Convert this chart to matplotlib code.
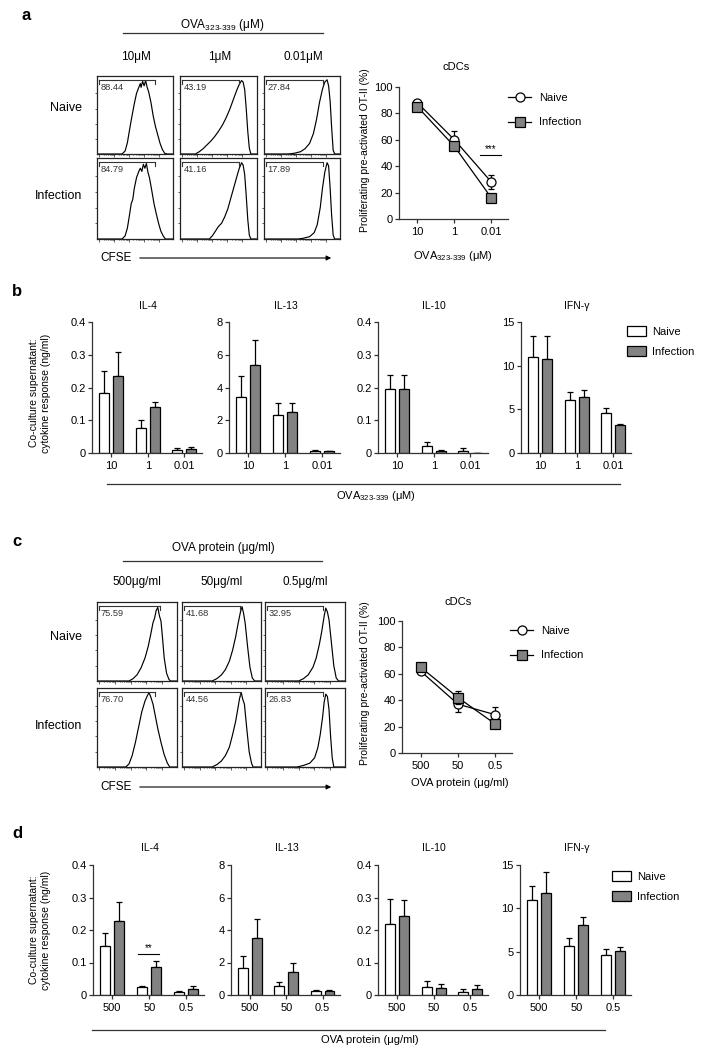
import numpy as np
import matplotlib
matplotlib.use("Agg")
import matplotlib.pyplot as plt
from matplotlib.lines import Line2D
from matplotlib.patches import Patch

plt.rcParams['font.family'] = ['Liberation Sans', 'DejaVu Sans']
plt.rcParams['mathtext.fontset'] = 'custom'
plt.rcParams['mathtext.rm'] = 'Liberation Sans'
plt.rcParams['mathtext.it'] = 'Liberation Sans'

W, H = 709, 1050
GRAY = '#828282'

# ---------------- DATA ----------------
# Panel a: flow histograms (x = fraction of CFSE axis, h = relative count)
A_COLS = ['10μM', '1μM', '0.01μM']
A_ROWS = ['Naive', 'Infection']
A_PCT = [['88.44', '43.19', '27.84'], ['84.79', '41.16', '17.89']]
A_GATE_END = [[0.76, 0.77, 0.77], [0.76, 0.77, 0.77]]
HA_NAIVE_10 = [(0, 0), (0.33, 0), (0.37, 0.04), (0.40, 0.15), (0.43, 0.33), (0.46, 0.5), (0.49, 0.66), (0.52, 0.8),
               (0.55, 0.88), (0.57, 0.93), (0.58, 0.88), (0.60, 0.96), (0.62, 0.9), (0.64, 0.97), (0.66, 0.88),
               (0.68, 0.82), (0.71, 0.68), (0.74, 0.5), (0.77, 0.36), (0.80, 0.25), (0.83, 0.14), (0.86, 0.06),
               (0.89, 0.01), (0.92, 0), (1, 0)]
HA_NAIVE_1 = [(0, 0), (0.2, 0), (0.25, 0.03), (0.3, 0.07), (0.35, 0.12), (0.4, 0.17), (0.45, 0.23), (0.5, 0.3),
              (0.55, 0.38), (0.6, 0.48), (0.65, 0.6), (0.7, 0.74), (0.74, 0.85), (0.77, 0.92), (0.8, 0.97),
              (0.82, 0.95), (0.84, 0.85), (0.86, 0.6), (0.88, 0.3), (0.9, 0.08), (0.92, 0), (1, 0)]
HA_NAIVE_001 = [(0, 0), (0.32, 0), (0.4, 0.01), (0.48, 0.03), (0.54, 0.07), (0.6, 0.14), (0.65, 0.27), (0.69, 0.45),
                (0.73, 0.68), (0.77, 0.86), (0.8, 0.95), (0.83, 0.98), (0.85, 0.9), (0.87, 0.7), (0.89, 0.35),
                (0.91, 0.05), (0.93, 0), (1, 0)]
HA_INF_10 = [(0, 0), (0.33, 0), (0.37, 0.04), (0.4, 0.14), (0.43, 0.32), (0.45, 0.45), (0.47, 0.5), (0.49, 0.64),
             (0.52, 0.78), (0.55, 0.86), (0.57, 0.9), (0.59, 0.86), (0.61, 0.95), (0.63, 0.9), (0.65, 0.96),
             (0.67, 0.85), (0.69, 0.78), (0.72, 0.62), (0.75, 0.45), (0.78, 0.32), (0.81, 0.2), (0.84, 0.1),
             (0.87, 0.04), (0.9, 0), (1, 0)]
HA_INF_1 = [(0, 0), (0.38, 0), (0.42, 0.04), (0.46, 0.1), (0.5, 0.16), (0.54, 0.2), (0.58, 0.28), (0.62, 0.38),
            (0.66, 0.52), (0.7, 0.66), (0.74, 0.8), (0.77, 0.9), (0.8, 0.97), (0.82, 0.94), (0.84, 0.82),
            (0.86, 0.55), (0.88, 0.25), (0.9, 0.05), (0.92, 0), (1, 0)]
HA_INF_001 = [(0, 0), (0.45, 0), (0.52, 0.01), (0.6, 0.03), (0.66, 0.08), (0.7, 0.18), (0.74, 0.4), (0.77, 0.65),
              (0.8, 0.85), (0.83, 0.97), (0.85, 0.93), (0.87, 0.65), (0.89, 0.3), (0.91, 0.05), (0.93, 0), (1, 0)]

# Panel a: proliferation line chart
A_DOSES = ['10', '1', '0.01']
A_LINE_NAIVE = [88, 60, 28]
A_LINE_NAIVE_ERR = [1, 7, 5]
A_LINE_INF = [85, 55, 16]
A_LINE_INF_ERR = [1, 2, 1]

# Panel b: cytokines, OVA323-339
B_IL4_N, B_IL4_N_E = [0.183, 0.076, 0.009], [0.066, 0.024, 0.006]
B_IL4_I, B_IL4_I_E = [0.236, 0.140, 0.012], [0.071, 0.016, 0.006]
B_IL13_N, B_IL13_N_E = [3.40, 2.32, 0.14], [1.28, 0.71, 0.06]
B_IL13_I, B_IL13_I_E = [5.38, 2.48, 0.10], [1.50, 0.57, 0.02]
B_IL10_N, B_IL10_N_E = [0.194, 0.020, 0.007], [0.045, 0.014, 0.008]
B_IL10_I, B_IL10_I_E = [0.196, 0.007, 0.0], [0.043, 0.002, 0.0]
B_IFN_N, B_IFN_N_E = [11.0, 6.03, 4.58], [2.36, 0.92, 0.57]
B_IFN_I, B_IFN_I_E = [10.76, 6.45, 3.24], [2.60, 0.76, 0.12]

# Panel c: flow histograms (OVA protein)
C_COLS = ['500μg/ml', '50μg/ml', '0.5μg/ml']
C_PCT = [['75.59', '41.68', '32.95'], ['76.70', '44.56', '26.83']]
C_GATE_END = [[0.79, 0.74, 0.73], [0.73, 0.74, 0.73]]
HC_NAIVE_500 = [(0, 0), (0.4, 0), (0.45, 0.03), (0.5, 0.08), (0.55, 0.17), (0.6, 0.3), (0.64, 0.45), (0.67, 0.6),
                (0.7, 0.76), (0.72, 0.82), (0.74, 0.92), (0.76, 0.96), (0.78, 0.85), (0.8, 0.78), (0.82, 0.55),
                (0.84, 0.3), (0.87, 0.1), (0.9, 0.02), (0.92, 0), (1, 0)]
HC_NAIVE_50 = [(0, 0), (0.38, 0), (0.44, 0.03), (0.5, 0.08), (0.55, 0.15), (0.6, 0.26), (0.64, 0.4), (0.68, 0.58),
               (0.71, 0.75), (0.74, 0.9), (0.76, 0.97), (0.78, 0.88), (0.8, 0.75), (0.83, 0.45), (0.86, 0.18),
               (0.89, 0.04), (0.92, 0), (1, 0)]
HC_NAIVE_05 = [(0, 0), (0.42, 0), (0.48, 0.03), (0.54, 0.08), (0.6, 0.18), (0.64, 0.3), (0.68, 0.48), (0.71, 0.65),
               (0.74, 0.85), (0.76, 0.95), (0.78, 0.9), (0.8, 0.8), (0.83, 0.5), (0.86, 0.2), (0.89, 0.04),
               (0.92, 0), (1, 0)]
HC_INF_500 = [(0, 0), (0.36, 0), (0.4, 0.04), (0.44, 0.15), (0.48, 0.32), (0.52, 0.52), (0.56, 0.72), (0.6, 0.86),
              (0.63, 0.93), (0.65, 0.97), (0.67, 0.92), (0.7, 0.82), (0.73, 0.66), (0.76, 0.5), (0.8, 0.32),
              (0.84, 0.16), (0.88, 0.05), (0.91, 0), (1, 0)]
HC_INF_50 = [(0, 0), (0.38, 0), (0.44, 0.03), (0.5, 0.08), (0.55, 0.15), (0.6, 0.26), (0.64, 0.42), (0.68, 0.6),
             (0.71, 0.78), (0.73, 0.9), (0.75, 0.97), (0.77, 0.88), (0.79, 0.82), (0.82, 0.5), (0.85, 0.2),
             (0.88, 0.05), (0.9, 0), (1, 0)]
HC_INF_05 = [(0, 0), (0.4, 0), (0.48, 0.02), (0.56, 0.05), (0.62, 0.12), (0.66, 0.25), (0.69, 0.42), (0.72, 0.65),
             (0.74, 0.85), (0.76, 0.95), (0.78, 0.92), (0.8, 0.75), (0.82, 0.4), (0.84, 0.12), (0.86, 0), (1, 0)]

# Panel c: proliferation line chart
C_DOSES = ['500', '50', '0.5']
C_LINE_NAIVE = [62, 37, 29]
C_LINE_NAIVE_ERR = [1.5, 6, 6]
C_LINE_INF = [65, 42, 22]
C_LINE_INF_ERR = [1, 5, 1]

# Panel d: cytokines, OVA protein
D_IL4_N, D_IL4_N_E = [0.150, 0.025, 0.009], [0.042, 0.004, 0.002]
D_IL4_I, D_IL4_I_E = [0.229, 0.085, 0.019], [0.058, 0.021, 0.009]
D_IL13_N, D_IL13_N_E = [1.64, 0.55, 0.23], [0.78, 0.27, 0.10]
D_IL13_I, D_IL13_I_E = [3.49, 1.44, 0.27], [1.17, 0.55, 0.06]
D_IL10_N, D_IL10_N_E = [0.217, 0.026, 0.010], [0.078, 0.017, 0.010]
D_IL10_I, D_IL10_I_E = [0.242, 0.022, 0.019], [0.049, 0.012, 0.012]
D_IFN_N, D_IFN_N_E = [10.92, 5.65, 4.58], [1.60, 0.88, 0.73]
D_IFN_I, D_IFN_I_E = [11.72, 8.13, 5.08], [2.52, 0.88, 0.45]

# ---------------- FIGURE ----------------
fig = plt.figure(figsize=(W / 100, H / 100), dpi=100)


def px_axes(x0, y0, x1, y1):
    return fig.add_axes([x0 / W, 1 - y1 / H, (x1 - x0) / W, (y1 - y0) / H])


def ftext(x, y, s, **kw):
    kw.setdefault('ha', 'center')
    kw.setdefault('va', 'center')
    return fig.text(x / W, 1 - y / H, s, **kw)


def fline(x0, x1, y, lw=0.9, color='#333333'):
    fig.add_artist(Line2D([x0 / W, x1 / W], [1 - y / H, 1 - y / H], transform=fig.transFigure,
                          color=color, lw=lw))


def farrow(x0, x1, y):
    fig.add_artist(matplotlib.patches.FancyArrowPatch((x0 / W, 1 - y / H), (x1 / W, 1 - y / H),
                                                      transform=fig.transFigure, arrowstyle='-|>',
                                                      mutation_scale=7, color='black', lw=0.8))


def histo(ax, pts, pct, gate_end):
    xs = [p[0] for p in pts]
    hs = [p[1] for p in pts]
    ax.plot(xs, hs, color='black', lw=0.85)
    ax.set_xlim(0, 1)
    ax.set_ylim(0, 1.03)
    for s in ax.spines.values():
        s.set_linewidth(0.9)
        s.set_color('#222222')
    major = [0.03, 0.225, 0.42, 0.615, 0.81]
    ax.set_xticks(major)
    minor = []
    for d in major[:-1]:
        for k in range(2, 10):
            minor.append(d + 0.195 * np.log10(k))
    ax.set_xticks(minor, minor=True)
    ax.set_yticks([0.2, 0.4, 0.6, 0.8])
    ax.tick_params(axis='both', which='both', direction='out', length=1.8, width=0.6,
                   labelbottom=False, labelleft=False, colors='#444444')
    ax.tick_params(axis='x', which='minor', length=1.0)
    # gate bracket
    yb = 0.975
    ax.plot([0.03, gate_end], [yb, yb], color='#333333', lw=0.8, clip_on=False)
    ax.plot([0.03, 0.03], [yb, yb - 0.05], color='#333333', lw=0.8)
    ax.plot([gate_end, gate_end], [yb, yb - 0.05], color='#333333', lw=0.8)
    ax.text(0.045, 0.915, pct, transform=ax.transAxes, ha='left', va='top', fontsize=6.7, color='#333333')


def style_axes(ax):
    for k in ['top', 'right']:
        ax.spines[k].set_visible(False)
    for k in ['left', 'bottom']:
        ax.spines[k].set_linewidth(0.9)
        ax.spines[k].set_color('#333333')
    ax.tick_params(direction='out', length=3, width=0.9, labelsize=8, pad=1.5, color='#333333')


def bar_panel(ax, n, ne, i, ie, ymax, yticks, ylabels, xlabels):
    x = np.arange(3)
    off, w = 0.19, 0.27
    ax.bar(x - off, n, width=w, color='white', edgecolor='black', linewidth=0.9, zorder=2)
    ax.bar(x + off, i, width=w, color=GRAY, edgecolor='black', linewidth=0.9, zorder=2)
    ax.errorbar(x - off, n, yerr=[np.zeros(3), ne], fmt='none', ecolor='black', elinewidth=0.9,
                capsize=2, capthick=0.9, zorder=1)
    ax.errorbar(x + off, i, yerr=[np.zeros(3), ie], fmt='none', ecolor='black', elinewidth=0.9,
                capsize=2, capthick=0.9, zorder=1)
    ax.set_xlim(-0.52, 2.48)
    ax.set_ylim(0, ymax)
    ax.set_yticks(yticks)
    ax.set_yticklabels(ylabels)
    ax.set_xticks(x)
    ax.set_xticklabels(xlabels)
    style_axes(ax)
    ax.tick_params(axis='x', pad=2.5)


def line_panel(ax, doses, n, ne, i, ie):
    x = np.arange(3)
    ax.errorbar(x, n, yerr=ne, fmt='-o', color='black', mfc='white', mec='black', ms=6.5,
                mew=0.9, lw=0.9, capsize=2.5, capthick=0.9, elinewidth=0.9, clip_on=False, zorder=3)
    ax.errorbar(x, i, yerr=ie, fmt='-s', color='black', mfc=GRAY, mec='black', ms=6.5,
                mew=0.9, lw=0.9, capsize=2.5, capthick=0.9, elinewidth=0.9, clip_on=False, zorder=4)
    ax.set_xlim(-0.5, 2.45)
    ax.set_ylim(0, 100)
    ax.set_yticks([0, 20, 40, 60, 80, 100])
    ax.set_xticks(x)
    ax.set_xticklabels(doses)
    style_axes(ax)
    ax.tick_params(axis='x', pad=3)


def line_legend(x, ytop):
    h = [Line2D([], [], color='black', marker='o', mfc='white', mec='black', ms=6.5, lw=0.9, mew=0.9),
         Line2D([], [], color='black', marker='s', mfc=GRAY, mec='black', ms=6.5, lw=0.9, mew=0.9)]
    fig.legend(h, ['Naive', 'Infection'], loc='upper left', bbox_to_anchor=(x / W, 1 - ytop / H),
               frameon=False, fontsize=8, handlelength=2.1, handletextpad=0.7, labelspacing=1.3,
               borderpad=0, borderaxespad=0)


def bar_legend(x, ytop):
    h = [Patch(facecolor='white', edgecolor='black', lw=0.9), Patch(facecolor=GRAY, edgecolor='black', lw=0.9)]
    fig.legend(h, ['Naive', 'Infection'], loc='upper left', bbox_to_anchor=(x / W, 1 - ytop / H),
               frameon=False, fontsize=8, handlelength=1.75, handleheight=1.0, handletextpad=0.5,
               labelspacing=0.85, borderpad=0, borderaxespad=0)


OVA_PEP = 'OVA$_{\\mathregular{323‐339}}$ (μM)'

# ---------- panel a ----------
ftext(26, 15, 'a', fontsize=12, fontweight='bold')
ftext(222, 25, OVA_PEP, fontsize=8.5)
fline(123, 323, 33)
a_cols_x = [(97, 173), (180, 257), (264, 340)]
a_rows_y = [(76, 154), (158, 239)]
A_HISTS = [[HA_NAIVE_10, HA_NAIVE_1, HA_NAIVE_001], [HA_INF_10, HA_INF_1, HA_INF_001]]
for c, (x0, x1) in enumerate(a_cols_x):
    ftext((x0 + x1) / 2 + 1, 57, A_COLS[c], fontsize=8.5)
    for r, (y0, y1) in enumerate(a_rows_y):
        ax = px_axes(x0, y0, x1, y1)
        histo(ax, A_HISTS[r][c], A_PCT[r][c], A_GATE_END[r][c])
ftext(82, 108, A_ROWS[0], fontsize=9, ha='right')
ftext(82, 196, A_ROWS[1], fontsize=9, ha='right')
ftext(100, 258, 'CFSE', fontsize=8.5, ha='left')
farrow(137, 334, 258)

axl = px_axes(399, 87, 508, 219)
line_panel(axl, A_DOSES, A_LINE_NAIVE, A_LINE_NAIVE_ERR, A_LINE_INF, A_LINE_INF_ERR)
axl.plot([1.70, 2.27], [48.5, 48.5], color='black', lw=0.8)
axl.text(1.985, 49.5, '***', ha='center', va='bottom', fontsize=7)
ftext(456, 67, 'cDCs', fontsize=8)
ftext(365, 150, 'Proliferating pre-activated OT-II (%)', fontsize=7.5, rotation=90)
ftext(453, 256, OVA_PEP, fontsize=8)
line_legend(508, 93)

# ---------- panel b ----------
ftext(17, 291, 'b', fontsize=12, fontweight='bold')
b_x = [(92, 202), (229, 340), (378, 488), (521, 631)]
b_titles = ['IL-4', 'IL-13', 'IL-10', 'IFN-γ']
b_y = (322, 453)
B_SETS = [(B_IL4_N, B_IL4_N_E, B_IL4_I, B_IL4_I_E), (B_IL13_N, B_IL13_N_E, B_IL13_I, B_IL13_I_E),
          (B_IL10_N, B_IL10_N_E, B_IL10_I, B_IL10_I_E), (B_IFN_N, B_IFN_N_E, B_IFN_I, B_IFN_I_E)]
YAX = [(0.4, [0, 0.1, 0.2, 0.3, 0.4], ['0', '0.1', '0.2', '0.3', '0.4']),
       (8, [0, 2, 4, 6, 8], ['0', '2', '4', '6', '8']),
       (0.4, [0, 0.1, 0.2, 0.3, 0.4], ['0', '0.1', '0.2', '0.3', '0.4']),
       (15, [0, 5, 10, 15], ['0', '5', '10', '15'])]
for k, (x0, x1) in enumerate(b_x):
    ax = px_axes(x0, b_y[0], x1, b_y[1])
    n, ne, i, ie = B_SETS[k]
    bar_panel(ax, n, ne, i, ie, YAX[k][0], YAX[k][1], YAX[k][2], A_DOSES)
    ftext((x0 + x1) / 2 + 1, 306, b_titles[k], fontsize=7.5)
ftext(40, 393, 'Co-culture supernatant:\ncytokine response (ng/ml)', fontsize=7.5, rotation=90,
      linespacing=1.35)
fline(107, 620, 484)
ftext(376, 496, OVA_PEP, fontsize=8)
bar_legend(627, 326)

# ---------- panel c ----------
ftext(17, 542, 'c', fontsize=12, fontweight='bold')
ftext(223, 548, 'OVA protein (μg/ml)', fontsize=8.5)
fline(123, 322, 561)
c_cols_x = [(97, 177), (182, 261), (265, 345)]
c_rows_y = [(602, 681), (688, 767)]
C_HISTS = [[HC_NAIVE_500, HC_NAIVE_50, HC_NAIVE_05], [HC_INF_500, HC_INF_50, HC_INF_05]]
for c, (x0, x1) in enumerate(c_cols_x):
    ftext((x0 + x1) / 2, 582, C_COLS[c], fontsize=8.5)
    for r, (y0, y1) in enumerate(c_rows_y):
        ax = px_axes(x0, y0, x1, y1)
        histo(ax, C_HISTS[r][c], C_PCT[r][c], C_GATE_END[r][c])
ftext(82, 637, A_ROWS[0], fontsize=9, ha='right')
ftext(82, 726, A_ROWS[1], fontsize=9, ha='right')
ftext(100, 787, 'CFSE', fontsize=8.5, ha='left')
farrow(137, 334, 787)

axl = px_axes(402, 621, 512, 753)
line_panel(axl, C_DOSES, C_LINE_NAIVE, C_LINE_NAIVE_ERR, C_LINE_INF, C_LINE_INF_ERR)
ftext(458, 602, 'cDCs', fontsize=8)
ftext(365, 683, 'Proliferating pre-activated OT-II (%)', fontsize=7.5, rotation=90)
ftext(460, 783, 'OVA protein (μg/ml)', fontsize=8)
line_legend(510, 626)

# ---------- panel d ----------
ftext(17, 833, 'd', fontsize=12, fontweight='bold')
d_x = [(93, 204), (231, 340), (378, 488), (520, 631)]
d_y = (865, 995)
D_SETS = [(D_IL4_N, D_IL4_N_E, D_IL4_I, D_IL4_I_E), (D_IL13_N, D_IL13_N_E, D_IL13_I, D_IL13_I_E),
          (D_IL10_N, D_IL10_N_E, D_IL10_I, D_IL10_I_E), (D_IFN_N, D_IFN_N_E, D_IFN_I, D_IFN_I_E)]
for k, (x0, x1) in enumerate(d_x):
    ax = px_axes(x0, d_y[0], x1, d_y[1])
    n, ne, i, ie = D_SETS[k]
    bar_panel(ax, n, ne, i, ie, YAX[k][0], YAX[k][1], YAX[k][2], C_DOSES)
    ftext((x0 + x1) / 2 + 1, 848, b_titles[k], fontsize=7.5)
    if k == 0:
        ax.plot([0.70, 1.27], [0.126, 0.126], color='black', lw=0.8)
        ax.text(0.985, 0.129, '**', ha='center', va='bottom', fontsize=7)
ftext(40, 930, 'Co-culture supernatant:\ncytokine response (ng/ml)', fontsize=7.5, rotation=90,
      linespacing=1.35)
fline(92, 605, 1030)
ftext(370, 1040, 'OVA protein (μg/ml)', fontsize=8)
bar_legend(612, 871)

fig.savefig('out.png', dpi=100)
